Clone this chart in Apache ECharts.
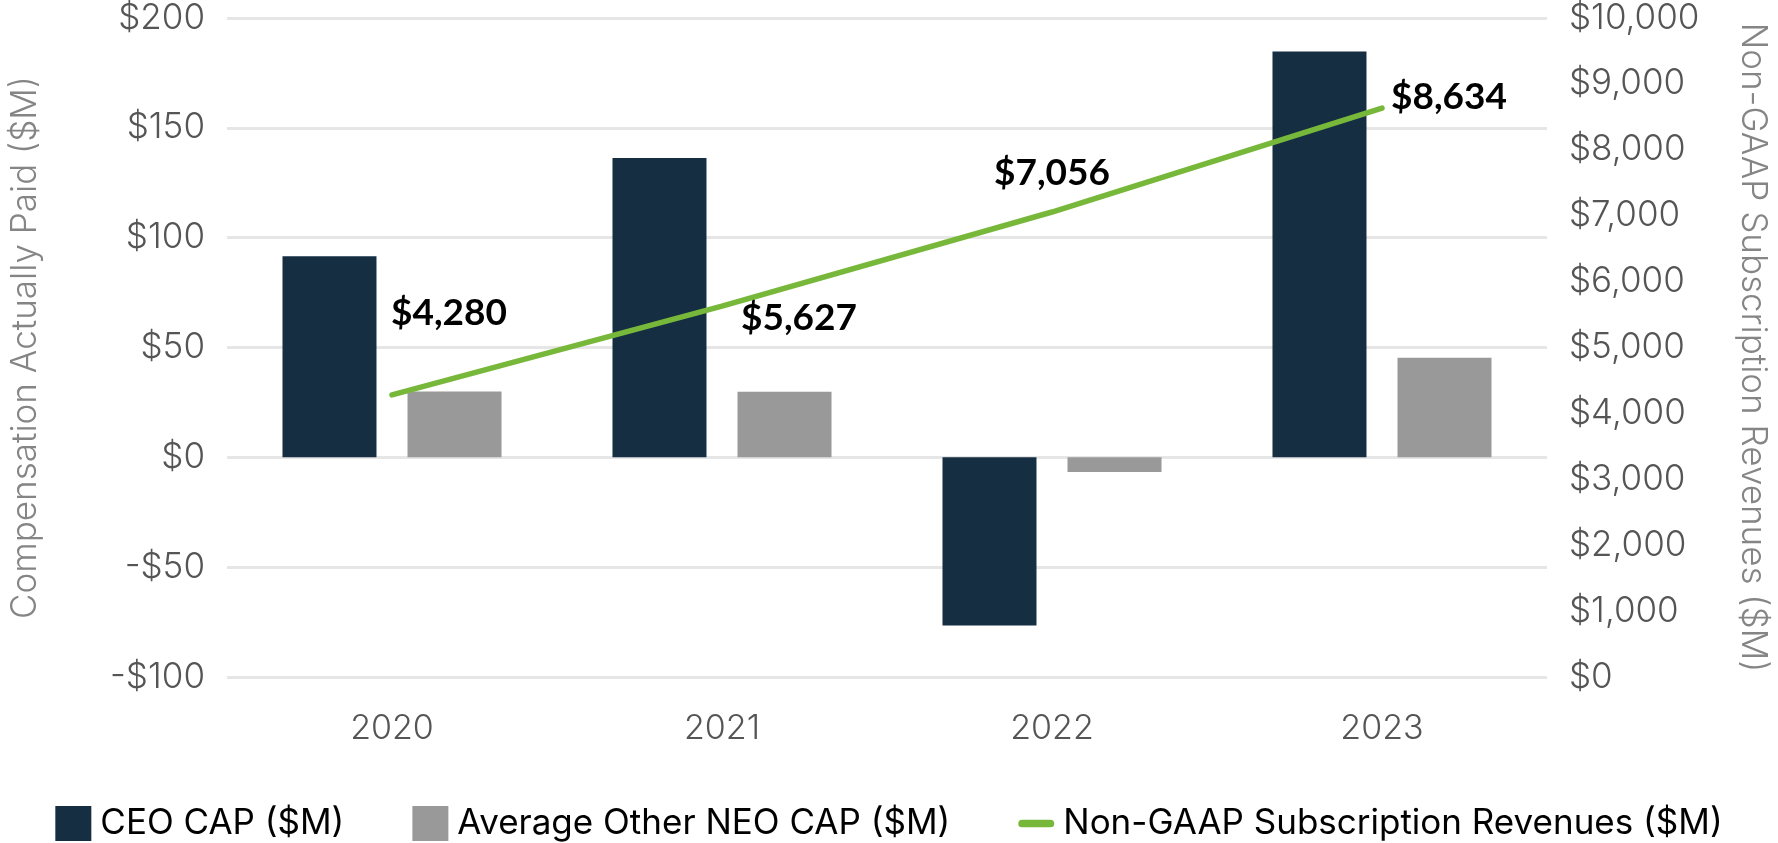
<!DOCTYPE html>
<html>
<head>
<meta charset="utf-8">
<script src="https://cdn.jsdelivr.net/npm/echarts@6/dist/echarts.min.js"></script>
<style>
html,body{margin:0;padding:0;background:#fff;}
#chart{width:1778px;height:843px;}
</style>
</head>
<body>
<div id="chart"></div>
<script>
const categories = ['2020', '2021', '2022', '2023'];
const ceoCap = [91.5, 136.3, -76.6, 184.8];
const neoCap = [30.0, 29.9, -6.7, 45.3];
const subscriptionRevenue = [4280, 5627, 7056, 8634];

const seriesNames = ['CEO CAP ($M)', 'Average Other NEO CAP ($M)', 'Non-GAAP Subscription Revenues ($M)'];
const leftTitle = 'Compensation Actually Paid ($M)';
const rightTitle = 'Non-GAAP Subscription Revenues ($M)';

// label placement (style config, offset from point)
const labelOffsets = [[57, -82], [77, 12], [0, -39], [67, -11]];

const FONT = 'Inter, Lato, sans-serif';
const BOLD_FONT = 'Lato';

const chart = echarts.init(document.getElementById('chart'));
chart.setOption({
  animation: false,
  backgroundColor: '#ffffff',
  grid: { left: 220, right: 226, top: 18, bottom: 166 },
  legend: {
    top: 801,
    left: 'center',
    itemWidth: 36,
    itemHeight: 35,
    itemGap: 68,
    textStyle: { fontFamily: FONT, fontWeight: 400, fontSize: 35, color: '#000000', padding: [0, 0, 0, 4] },
    data: [
      { name: seriesNames[0], icon: 'rect' },
      { name: seriesNames[1], icon: 'rect' },
      { name: seriesNames[2], icon: 'path://M4.5,0 H37.5 A4.5,4.5 0 0 1 37.5,9 H4.5 A4.5,4.5 0 0 1 4.5,0 Z' }
    ]
  },
  xAxis: {
    type: 'category',
    data: categories,
    axisLine: { show: false },
    axisTick: { show: false },
    axisLabel: { margin: 35, fontFamily: FONT, fontWeight: 300, fontSize: 34, color: '#555555' }
  },
  yAxis: [
    {
      type: 'value',
      min: -100, max: 200, interval: 50,
      position: 'left',
      name: leftTitle,
      nameLocation: 'middle',
      nameGap: 184,
      nameTextStyle: { fontFamily: FONT, fontWeight: 300, fontSize: 35, color: '#858585' },
      axisLine: { show: false },
      axisTick: { show: false },
      splitLine: { lineStyle: { color: '#e6e6e6', width: 3 } },
      axisLabel: {
        margin: 22, fontFamily: FONT, fontWeight: 300, fontSize: 35, color: '#555555',
        formatter: v => (v < 0 ? '-$' + Math.abs(v) : '$' + v)
      }
    },
    {
      type: 'value',
      min: 0, max: 10000, interval: 1000,
      position: 'right',
      name: rightTitle,
      nameLocation: 'middle',
      nameGap: 188,
      nameRotate: -90,
      nameTextStyle: { fontFamily: FONT, fontWeight: 300, fontSize: 35, color: '#858585' },
      axisLine: { show: false },
      axisTick: { show: false },
      splitLine: { show: false },
      axisLabel: {
        margin: 22, fontFamily: FONT, fontWeight: 300, fontSize: 35, color: '#555555',
        formatter: v => '$' + v.toLocaleString('en-US')
      }
    }
  ],
  series: [
    {
      name: seriesNames[0], type: 'bar', data: ceoCap, yAxisIndex: 0,
      barWidth: 94, barGap: '33%',
      itemStyle: { color: '#152e42' }
    },
    {
      name: seriesNames[1], type: 'bar', data: neoCap, yAxisIndex: 0,
      barWidth: 94,
      itemStyle: { color: '#999999' }
    },
    {
      name: seriesNames[2], type: 'line', yAxisIndex: 1,
      data: subscriptionRevenue.map((v, i) => ({
        value: v,
        label: { offset: labelOffsets[i] }
      })),
      symbol: 'circle', symbolSize: 2,
      itemStyle: { color: '#77b83b' },
      lineStyle: { color: '#77b83b', width: 5.5, cap: 'round' },
      label: {
        show: true, position: 'inside',
        fontFamily: BOLD_FONT, fontWeight: 'bold', fontSize: 37, color: '#000000',
        formatter: p => '$' + p.value.toLocaleString('en-US')
      },
      z: 5
    }
  ]
});
</script>
</body>
</html>
